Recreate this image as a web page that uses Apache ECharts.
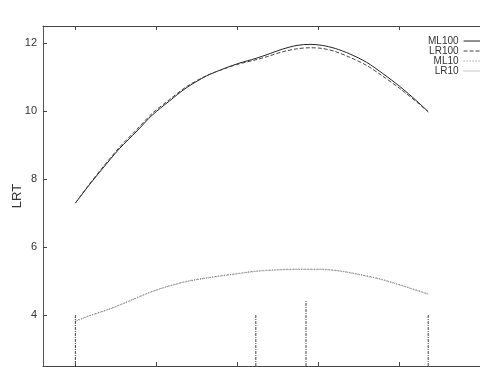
<!DOCTYPE html>
<html>
<head>
<meta charset="utf-8">
<script src="https://cdn.jsdelivr.net/npm/echarts@6/dist/echarts.min.js"></script>
<style>html,body{margin:0;padding:0;background:#fff}#c{width:480px;height:367px}</style>
</head>
<body>
<div id="c"></div>
<script>
var xTicks = [1, 2, 3, 4, 5];
var yTicks = [4, 6, 8, 10, 12];
var ml100X = [1.00, 1.17, 1.33, 1.54, 1.76, 1.95, 2.16, 2.37, 2.62, 2.85, 3.03, 3.22, 3.37, 3.56, 3.74, 3.90, 4.05, 4.21, 4.39, 4.60, 4.80, 5.01, 5.22, 5.36];
var ml100Y = [7.29, 7.82, 8.29, 8.88, 9.41, 9.88, 10.29, 10.68, 11.03, 11.26, 11.41, 11.54, 11.66, 11.82, 11.93, 11.96, 11.93, 11.84, 11.68, 11.43, 11.10, 10.72, 10.29, 9.98];
var lr100X = [1.00, 1.17, 1.33, 1.54, 1.76, 1.95, 2.16, 2.37, 2.62, 2.85, 3.03, 3.22, 3.37, 3.56, 3.74, 3.90, 4.05, 4.21, 4.39, 4.60, 4.80, 5.01, 5.22, 5.36];
var lr100Y = [7.29, 7.84, 8.32, 8.92, 9.46, 9.93, 10.33, 10.71, 11.04, 11.25, 11.39, 11.50, 11.60, 11.74, 11.83, 11.86, 11.84, 11.75, 11.58, 11.34, 11.02, 10.66, 10.26, 9.97];
var ml10X = [1.00, 1.17, 1.42, 1.67, 1.92, 2.16, 2.41, 2.72, 2.97, 3.22, 3.47, 3.72, 4.02, 4.27, 4.52, 4.77, 5.01, 5.22, 5.36];
var ml10Y = [3.83, 3.98, 4.18, 4.42, 4.67, 4.86, 5.01, 5.13, 5.21, 5.29, 5.33, 5.35, 5.35, 5.30, 5.19, 5.06, 4.89, 4.73, 4.62];
var lr10X = [1.00, 1.17, 1.42, 1.67, 1.92, 2.16, 2.41, 2.72, 2.97, 3.22, 3.47, 3.72, 4.02, 4.27, 4.52, 4.77, 5.01, 5.22, 5.36];
var lr10Y = [3.81, 3.97, 4.17, 4.41, 4.66, 4.85, 5.00, 5.12, 5.20, 5.28, 5.32, 5.34, 5.34, 5.29, 5.18, 5.05, 4.88, 4.72, 4.61];
var dropX = [1.00, 3.23, 3.85, 5.36];
var dropTop = [4.00, 4.00, 4.44, 4.00];
var yMin = 2.5, yMax = 12.5, xMin = 0.6, xMax = 6.0;

function pairs(xs, ys) { return xs.map(function (x, i) { return [x, ys[i]]; }); }

var series = [
  { name: 'ML100', type: 'line', data: pairs(ml100X, ml100Y), smooth: 0.3, symbol: 'none',
    lineStyle: { color: '#222', width: 1, type: 'solid' }, itemStyle: { color: '#222' } },
  { name: 'LR100', type: 'line', data: pairs(lr100X, lr100Y), smooth: 0.3, symbol: 'none',
    lineStyle: { color: '#444', width: 1, type: [4, 2] }, itemStyle: { color: '#444' } },
  { name: 'ML10', type: 'line', data: pairs(ml10X, ml10Y), smooth: 0.3, symbol: 'none',
    lineStyle: { color: '#777', width: 1, type: [1, 2] }, itemStyle: { color: '#777' } },
  { name: 'LR10', type: 'line', data: pairs(lr10X, lr10Y), smooth: 0.3, symbol: 'none',
    lineStyle: { color: '#888', width: 1, type: [1, 1] }, itemStyle: { color: '#888' } }
];
dropX.forEach(function (x, i) {
  series.push({ type: 'line', data: [[x, yMin], [x, dropTop[i]]], symbol: 'none', silent: true,
    lineStyle: { color: '#444', width: 1, type: [3, 1, 1, 1] } });
});

var chart = echarts.init(document.getElementById('c'), null, { renderer: 'canvas' });
chart.setOption({
  animation: false,
  backgroundColor: '#fff',
  textStyle: { fontFamily: 'Liberation Sans, Arial, sans-serif' },
  grid: { left: 43, top: 26, right: 0, bottom: 1, containLabel: false, outerBoundsMode: 'none' },
  legend: {
    data: ['ML100', 'LR100', 'ML10', 'LR10'],
    orient: 'vertical', left: 428, top: 36, align: 'right', padding: 0,
    itemWidth: 22, itemHeight: 8, itemGap: 0, itemTextGap: 5,
    itemStyle: { opacity: 0 },
    lineStyle: { width: 1 },
    textStyle: { fontSize: 10, lineHeight: 10, color: '#333', fontFamily: 'Liberation Sans, Arial, sans-serif' }
  },
  xAxis: [
    { type: 'value', min: xMin, max: xMax, position: 'bottom',
      axisLine: { show: true, lineStyle: { color: '#444', width: 1 } },
      axisTick: { show: true, inside: true, length: 4, customValues: xTicks, lineStyle: { color: '#444' } },
      axisLabel: { show: false }, splitLine: { show: false } },
    { type: 'value', min: xMin, max: xMax, position: 'top',
      axisLine: { show: true, lineStyle: { color: '#444', width: 1 } },
      axisTick: { show: true, inside: true, length: 4, customValues: xTicks, lineStyle: { color: '#444' } },
      axisLabel: { show: false }, splitLine: { show: false } }
  ],
  yAxis: {
    type: 'value', min: yMin, max: yMax,
    name: 'LRT', nameLocation: 'middle', nameGap: 19, nameRotate: 90, nameMoveOverlap: false,
    nameTextStyle: { fontSize: 13, color: '#333' },
    axisLine: { show: true, lineStyle: { color: '#555', width: 1 } },
    axisTick: { show: true, inside: true, length: 4, customValues: yTicks, lineStyle: { color: '#444' } },
    axisLabel: { show: true, customValues: yTicks, fontSize: 11, color: '#333', margin: 6 },
    splitLine: { show: false }
  },
  series: series
});
</script>
</body>
</html>
